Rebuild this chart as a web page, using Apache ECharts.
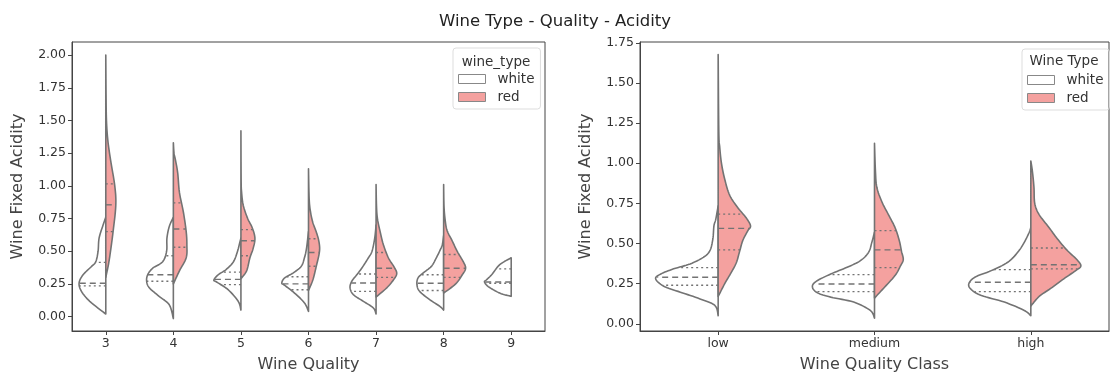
<!DOCTYPE html>
<html>
<head>
<meta charset="utf-8">
<script src="https://cdn.jsdelivr.net/npm/echarts@6.0.0/dist/echarts.min.js"></script>
<style>
  html, body { margin: 0; padding: 0; background: #fff; }
  #main { width: 1110px; height: 378px; }
</style>
</head>
<body>
<div id="main"></div>
<script>
// categories of both panels
var leftCats = ['3', '4', '5', '6', '7', '8', '9'];
var rightCats = ['low', 'medium', 'high'];

// violin half outlines: [acidity, half width as part of one category band]
var leftWhiteShape = [
  [[0.02,0],[0.117,0.237],[0.193,0.36],[0.257,0.395],[0.32,0.336],[0.384,0.21],[0.42,0.148],[0.5,0.114],[0.6,0.099],[0.7,0.04],[0.76,0]],
  [[-0.015,0],[0.09,0.06],[0.155,0.21],[0.22,0.355],[0.27,0.395],[0.32,0.38],[0.37,0.306],[0.42,0.158],[0.5,0.1],[0.6,0.095],[0.69,0.06],[0.76,0]],
  [[0.05,0],[0.117,0.04],[0.206,0.19],[0.265,0.36],[0.28,0.4],[0.32,0.336],[0.36,0.22],[0.42,0.11],[0.5,0.05],[0.56,0.02],[0.6,0]],
  [[0.04,0],[0.105,0.06],[0.18,0.207],[0.24,0.355],[0.257,0.395],[0.295,0.355],[0.333,0.23],[0.384,0.108],[0.45,0.06],[0.52,0.03],[0.65,0]],
  [[0.02,0],[0.066,0.04],[0.117,0.188],[0.168,0.336],[0.22,0.385],[0.27,0.36],[0.32,0.285],[0.372,0.21],[0.45,0.113],[0.5,0.06],[0.6,0.02],[0.7,0]],
  [[0.05,0],[0.08,0.06],[0.13,0.207],[0.193,0.355],[0.244,0.395],[0.295,0.38],[0.333,0.306],[0.384,0.182],[0.45,0.108],[0.5,0.06],[0.55,0.02],[0.62,0]],
  [[0.155,0],[0.18,0.17],[0.23,0.34],[0.265,0.395],[0.28,0.37],[0.32,0.29],[0.397,0.17],[0.45,0]]
];
var leftRedShape = [
  [[0.3,0],[0.4,0.04],[0.5,0.07],[0.65,0.108],[0.85,0.148],[1.0,0.133],[1.2,0.07],[1.35,0.03],[1.5,0.01],[1.7,0.004],[2.0,0]],
  [[0.25,0],[0.35,0.09],[0.45,0.19],[0.55,0.2],[0.65,0.19],[0.8,0.148],[0.95,0.09],[1.1,0.064],[1.2,0.03],[1.25,0.01],[1.33,0]],
  [[0.29,0],[0.35,0.084],[0.45,0.133],[0.52,0.18],[0.6,0.207],[0.68,0.167],[0.75,0.1],[0.85,0.035],[0.95,0.01],[1.05,0.003],[1.42,0]],
  [[0.2,0],[0.28,0.064],[0.38,0.113],[0.5,0.163],[0.58,0.152],[0.65,0.113],[0.72,0.064],[0.8,0.03],[0.9,0.01],[1.13,0]],
  [[0.15,0],[0.22,0.158],[0.28,0.256],[0.33,0.306],[0.38,0.266],[0.45,0.182],[0.55,0.108],[0.65,0.06],[0.75,0.02],[0.85,0.006],[1.01,0]],
  [[0.18,0],[0.25,0.178],[0.32,0.276],[0.37,0.325],[0.42,0.29],[0.5,0.2],[0.58,0.126],[0.66,0.05],[0.75,0.02],[0.85,0.005],[1.01,0]],
  []
];
var rightWhiteShape = [
  [[0.05,0],[0.114,0.021],[0.155,0.116],[0.197,0.242],[0.234,0.348],[0.28,0.4],[0.31,0.367],[0.342,0.285],[0.373,0.179],[0.414,0.095],[0.455,0.053],[0.528,0.034],[0.61,0.027],[0.652,0.015],[0.735,0]],
  [[0.035,0],[0.083,0.027],[0.135,0.133],[0.166,0.28],[0.193,0.365],[0.228,0.397],[0.263,0.375],[0.31,0.28],[0.352,0.175],[0.393,0.09],[0.445,0.038],[0.507,0.017],[0.57,0]],
  [[0.05,0],[0.083,0.042],[0.135,0.169],[0.176,0.316],[0.213,0.38],[0.248,0.397],[0.29,0.358],[0.331,0.253],[0.383,0.148],[0.445,0.084],[0.507,0.042],[0.57,0.01],[0.6,0]]
];
var rightRedShape = [
  [[0.17,0],[0.25,0.042],[0.32,0.084],[0.38,0.116],[0.45,0.137],[0.52,0.158],[0.58,0.19],[0.61,0.207],[0.66,0.179],[0.72,0.128],[0.8,0.074],[0.9,0.042],[1.0,0.021],[1.1,0.01],[1.2,0.004],[1.677,0]],
  [[0.16,0],[0.22,0.057],[0.3,0.131],[0.36,0.166],[0.4,0.184],[0.45,0.173],[0.52,0.158],[0.6,0.131],[0.68,0.089],[0.76,0.047],[0.85,0.015],[0.95,0.006],[1.124,0]],
  [[0.11,0],[0.17,0.053],[0.22,0.127],[0.28,0.211],[0.33,0.285],[0.36,0.32],[0.4,0.294],[0.46,0.23],[0.53,0.169],[0.6,0.116],[0.68,0.053],[0.75,0.025],[0.85,0.02],[0.95,0.01],[1.014,0]]
];

// quartiles [q1, median, q3]
var leftWhiteQuart = [[0.235,0.255,0.415],[0.27,0.32,0.465],[0.245,0.285,0.34],[0.205,0.25,0.305],[0.193,0.257,0.326],[0.2,0.255,0.32],[0.255,0.265,0.365]];
var leftRedQuart = [[0.65,0.855,1.015],[0.53,0.67,0.87],[0.465,0.58,0.665],[0.385,0.49,0.595],[0.3,0.37,0.49],[0.3,0.37,0.475],[]];
var rightWhiteQuart = [[0.24,0.29,0.35],[0.2,0.248,0.306],[0.2,0.259,0.337]];
var rightRedQuart = [[0.46,0.594,0.683],[0.35,0.46,0.58],[0.342,0.368,0.472]];

// tick labels
var leftTicks = [0, 0.25, 0.5, 0.75, 1.0, 1.25, 1.5, 1.75, 2.0];
var rightTicks = [0, 0.25, 0.5, 0.75, 1.0, 1.25, 1.5, 1.75];

var FONT = 'DejaVu Sans';
var EDGE = '#737373';
var RED = '#f4a19f';

function widthAt(shape, y) {
  for (var k = 1; k < shape.length; k++) {
    if (y <= shape[k][0]) {
      var a = shape[k - 1], b = shape[k];
      var t = (y - a[0]) / (b[0] - a[0]);
      return a[1] + t * (b[1] - a[1]);
    }
  }
  return 0;
}

// catmull-rom through the outline points so the edge looks like a kde curve
function smoothPts(pts, n, cx, side) {
  var out = [];
  for (var k = 0; k < pts.length - 1; k++) {
    var p0 = pts[Math.max(k - 1, 0)], p1 = pts[k], p2 = pts[k + 1], p3 = pts[Math.min(k + 2, pts.length - 1)];
    for (var s = 0; s < n; s++) {
      var t = s / n, t2 = t * t, t3 = t2 * t;
      var xy = [0, 1].map(function (d) {
        return 0.5 * (2 * p1[d] + (-p0[d] + p2[d]) * t +
          (2 * p0[d] - 5 * p1[d] + 4 * p2[d] - p3[d]) * t2 +
          (-p0[d] + 3 * p1[d] - 3 * p2[d] + p3[d]) * t3);
      });
      if (side * (xy[0] - cx) < 0) xy[0] = cx;
      out.push(xy);
    }
  }
  out.push(pts[pts.length - 1]);
  return out;
}

function halfViolin(shapes, quarts, side, fill) {
  return function (params, api) {
    var i = params.dataIndex;
    var shape = shapes[i];
    if (!shape || !shape.length) return null;
    var cx = api.coord([i, 0])[0];
    var band = api.size([1, 0])[0];
    var pts = shape.map(function (p) {
      return [cx + side * p[1] * band, api.coord([i, p[0]])[1]];
    });
    var children = [{
      type: 'polygon',
      shape: { points: smoothPts(pts, 8, cx, side) },
      style: { fill: fill, stroke: EDGE, lineWidth: 1.6, lineJoin: 'round' }
    }];
    (quarts[i] || []).forEach(function (q, k) {
      var y = api.coord([i, q])[1];
      var w = widthAt(shape, q) * band;
      children.push({
        type: 'line',
        shape: { x1: cx, y1: y, x2: cx + side * w, y2: y },
        style: { stroke: EDGE, lineWidth: 1.4, lineDash: k === 1 ? [6, 4] : [2, 3] }
      });
    });
    return { type: 'group', children: children };
  };
}

function yAxisFor(gridIndex, min, max, ticks) {
  return {
    type: 'value', gridIndex: gridIndex, min: min, max: max,
    name: 'Wine Fixed Acidity', nameLocation: 'middle', nameGap: 46,
    nameTextStyle: { fontFamily: FONT, fontSize: 16, color: '#444' },
    axisLine: { show: true, onZero: false, lineStyle: { color: '#444' } },
    axisTick: { show: true, length: 4, customValues: ticks, lineStyle: { color: '#444' } },
    axisLabel: { customValues: ticks, fontFamily: FONT, fontSize: 12.5, color: '#333', margin: 6,
      formatter: function (v) { return v.toFixed(2); } },
    splitLine: { show: false }
  };
}

function xAxisFor(gridIndex, cats, name) {
  return {
    type: 'category', gridIndex: gridIndex, data: cats,
    name: name, nameLocation: 'middle', nameGap: 26,
    nameTextStyle: { fontFamily: FONT, fontSize: 16, color: '#444' },
    axisLine: { show: true, onZero: false, lineStyle: { color: '#444' } },
    axisTick: { show: true, alignWithLabel: true, length: 4, lineStyle: { color: '#444' } },
    axisLabel: { fontFamily: FONT, fontSize: 12.5, color: '#333', margin: 6 },
    splitLine: { show: false }
  };
}

function legendAt(left, top) {
  return {
    left: left, top: top, orient: 'vertical', icon: 'rect',
    itemWidth: 27, itemHeight: 9, itemGap: 4,
    padding: [24, 6, 5, 5],
    borderColor: '#ddd', borderWidth: 1, borderRadius: 3,
    selectedMode: false,
    data: ['white', 'red'],
    itemStyle: { borderColor: '#888', borderWidth: 1 },
    textStyle: { fontFamily: FONT, fontSize: 13.5, color: '#333', padding: [0, 0, 0, 7] }
  };
}

var chart = echarts.init(document.getElementById('main'));
var option = {
  animation: false,
  backgroundColor: '#fff',
  title: {
    text: 'Wine Type - Quality - Acidity', left: 'center', top: 8,
    textStyle: { fontFamily: FONT, fontSize: 16.5, fontWeight: 'normal', color: '#222' }
  },
  graphic: [
    { type: 'text', x: 496, y: 62, style: { text: 'wine_type', align: 'center', verticalAlign: 'middle', fontFamily: FONT, fontSize: 13.5, fill: '#333' } },
    { type: 'text', x: 1064, y: 61, style: { text: 'Wine Type', align: 'center', verticalAlign: 'middle', fontFamily: FONT, fontSize: 13.5, fill: '#333' } }
  ],
  legend: [legendAt(453, 48), legendAt(1022, 49)],
  grid: [
    { left: 72, top: 42, width: 473, height: 290, show: true, borderColor: '#444', borderWidth: 1 },
    { left: 640, top: 42, width: 469, height: 290, show: true, borderColor: '#444', borderWidth: 1 }
  ],
  xAxis: [xAxisFor(0, leftCats, 'Wine Quality'), xAxisFor(1, rightCats, 'Wine Quality Class')],
  yAxis: [yAxisFor(0, -0.11, 2.10, leftTicks), yAxisFor(1, -0.045, 1.755, rightTicks)],
  series: [
    { type: 'custom', name: 'white', xAxisIndex: 0, yAxisIndex: 0, itemStyle: { color: '#ffffff' },
      data: leftCats.map(function (c, i) { return [i, 0]; }),
      renderItem: halfViolin(leftWhiteShape, leftWhiteQuart, -1, '#ffffff') },
    { type: 'custom', name: 'red', xAxisIndex: 0, yAxisIndex: 0, itemStyle: { color: RED },
      data: leftCats.map(function (c, i) { return [i, 0]; }),
      renderItem: halfViolin(leftRedShape, leftRedQuart, 1, RED) },
    { type: 'custom', name: 'white', xAxisIndex: 1, yAxisIndex: 1, itemStyle: { color: '#ffffff' },
      data: rightCats.map(function (c, i) { return [i, 0]; }),
      renderItem: halfViolin(rightWhiteShape, rightWhiteQuart, -1, '#ffffff') },
    { type: 'custom', name: 'red', xAxisIndex: 1, yAxisIndex: 1, itemStyle: { color: RED },
      data: rightCats.map(function (c, i) { return [i, 0]; }),
      renderItem: halfViolin(rightRedShape, rightRedQuart, 1, RED) }
  ]
};
chart.setOption(option);
</script>
</body>
</html>
